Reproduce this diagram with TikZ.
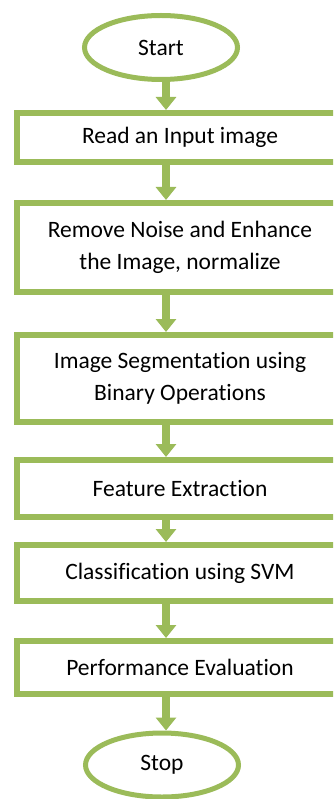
\documentclass[tikz,border=0pt]{standalone}
\usepackage{fontspec}
\setmainfont{Carlito}[Ligatures=NoCommon]
\usetikzlibrary{shapes.geometric,arrows.meta}
\definecolor{leafgreen}{RGB}{155,187,89}

\begin{document}
\begin{tikzpicture}[x=1pt,y=-1pt,
		stepbox/.style={draw=leafgreen,line width=6pt,minimum width=326pt,inner sep=0pt,align=center,font=\fontsize{23.5}{32}\selectfont},
		term/.style={ellipse,draw=leafgreen,line width=5pt,minimum width=153pt,minimum height=64pt,inner sep=0pt,font=\fontsize{23.5}{28}\selectfont},
		flow/.style={draw=leafgreen,line width=8pt,-{Triangle[width=20pt,length=13pt,fill=leafgreen]}}]
		\useasboundingbox (0,0) rectangle (333,799);
		\clip (0,0) rectangle (333,799);
		\node[term] (start) at (161,47.5) {Start};
		\node[stepbox,minimum height=49pt] (read) at (180,137.5) {\raisebox{-3pt}{Read an Input image}};
		\node[stepbox,minimum height=89pt] (noise) at (180,247.5) {Remove Noise and Enhance\\the Image, normalize};
		\node[stepbox,minimum height=87pt] (segment) at (180,378.5) {Image Segmentation using\\Binary Operations};
		\node[stepbox,minimum height=57pt] (feature) at (180,488.5) {Feature Extraction};
		\node[stepbox,minimum height=56pt] (classify) at (180,573) {Classification using SVM};
		\node[stepbox,minimum height=53pt] (perform) at (180,667.5) {Performance Evaluation};
		\node[term] (stop) at (162,765) {Stop};
		\draw[flow] ([xshift=5pt]start.south) to ([xshift=-14pt]read.north);
		\draw[flow] ([xshift=-14pt]read.south) to ([xshift=-14pt]noise.north);
		\draw[flow] ([xshift=-14pt]noise.south) to ([xshift=-14pt]segment.north);
		\draw[flow] ([xshift=-14pt]segment.south) to ([xshift=-14pt]feature.north);
		\draw[flow] ([xshift=-14pt]feature.south) to ([xshift=-14pt]classify.north);
		\draw[flow] ([xshift=-14pt]classify.south) to ([xshift=-14pt]perform.north);
		\draw[flow] ([xshift=-14pt]perform.south) to ([xshift=4pt]stop.north);
\end{tikzpicture}
\end{document}
